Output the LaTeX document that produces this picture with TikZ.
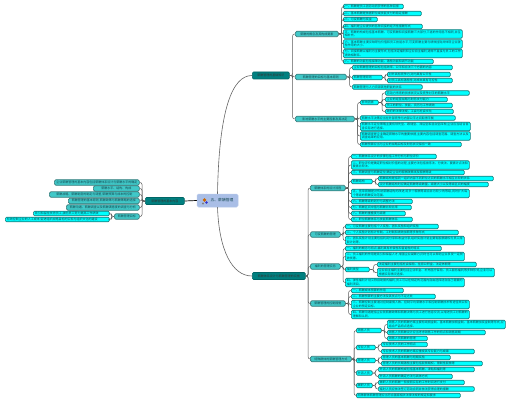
\documentclass[tikz,border=0pt]{standalone}
\usepackage{fontspec}
\setmainfont{Noto Sans CJK SC}
\XeTeXlinebreaklocale "zh"
\XeTeXlinebreakskip=0pt plus 0.5pt
\usetikzlibrary{calc}
\definecolor{rootfill}{HTML}{A9BEE6}
\definecolor{topfill}{HTML}{008080}
\definecolor{subfill}{HTML}{40C8C8}
\definecolor{leaffill}{HTML}{00FFFF}
\definecolor{edgeteal}{HTML}{1C7C7C}
\definecolor{txtdark}{HTML}{12474F}
\tikzset{
  rootblk/.style={rectangle,rounded corners=1.5pt,fill=rootfill,draw=rootfill!85!white,line width=.5pt,minimum width=41pt,minimum height=13pt,inner sep=0pt,font=\fontsize{3.8}{4.4}\selectfont,text=txtdark},
  topblk/.style={rectangle,rounded corners=1.2pt,fill=topfill,draw=topfill!80!black,line width=.6pt,anchor=west,minimum height=7pt,inner sep=0pt,align=center,font=\fontsize{3}{3.6}\selectfont,text=black!80},
  subblk/.style={rectangle,rounded corners=1.5pt,fill=subfill,draw=edgeteal!70!gray,line width=.7pt,anchor=west,minimum height=5.5pt,inner sep=0pt,align=center,font=\fontsize{3}{3.6}\selectfont,text=txtdark},
  leaf/.style={rectangle,rounded corners=1.2pt,fill=leaffill,draw=edgeteal,line width=.7pt,anchor=west,minimum height=4.6pt,inner xsep=1.5pt,inner ysep=0pt,align=left,font=\fontsize{3}{3.6}\selectfont,text=txtdark},
  two/.style={minimum height=8.6pt},
  wd/.style={minimum width=#1pt,text width=#1pt-3pt},
  bw/.style={minimum width=#1pt},
  lnk/.style={draw=black!65,line width=.5pt,rounded corners=2pt},
  lnkbig/.style={draw=black!60,line width=.6pt}
}
\begin{document}
\begin{tikzpicture}[x=1pt,y=-1pt]
  \useasboundingbox (0,0) rectangle (510,403);
  % Root
  \node[rootblk] (root) at (217.5,200.5) {\hspace{9pt}五、薪酬管理};
  \fill[orange!80!black] (204.5,200) circle (1.9pt);
  \fill[blue!60!gray] (206.5,202.5) circle (1.4pt);
  \fill[gray] (203,203.5) circle (1.1pt);

  % Left branch
  \node[topblk,bw=39] (ltl) at (145,201) {薪酬管理的基本内容};
  \node[subblk,bw=85] (la) at (54,182.5) {企业薪酬管理的基本内容包括薪酬体系设计与薪酬水平的确定};
  \node[subblk,bw=46] (lb) at (93,188.5) {薪酬水平、结构、构成};
  \node[subblk,bw=90] (lc) at (49,194.5) {薪酬战略、薪酬制度的制定与调整,薪酬预算与成本的控制};
  \node[subblk,bw=71] (ld) at (68,201) {薪酬管理的基本原则,薪酬政策与薪酬策略的选择};
  \node[subblk,bw=73] (le) at (66,207.5) {薪酬沟通、薪酬调查以及薪酬满意度的调查与分析};
  \node[subblk,bw=25] (lf) at (114,216.5) {薪酬管理目标};
  \node[leaf,wd=76] (lfa) at (33,213.5) {吸引和留住优秀员工,激励员工努力提高工作绩效};
  \node[leaf,wd=104] (lfb) at (5,219.5) {有效控制企业的人工成本,促进组织战略目标的实现与组织文化的建设};
  \draw[black,line width=.7pt] (root.west) -- (ltl.east);
  \foreach \t in {la,lb,lc,ld,le,lf}
    \draw[lnk] (ltl.west) -- ++(-3,0) |- (\t.east);
  \foreach \t in {lfa,lfb}
    \draw[lnk] (lf.west) -- ++(-2.5,0) |- (\t.east);

  % Top branch
  \node[topblk,bw=37] (ttop) at (252,75.5) {薪酬管理的基础知识};
  \draw[lnkbig] (root.north) .. controls (219,110) and (232,75.5) .. (ttop.west);

  \node[subblk,bw=43] (sa) at (295,34) {薪酬的概念及其构成要素};
  \node[leaf,wd=60] (a1) at (343,6.5) {一、薪酬是员工因劳动而获得的各种回报};
  \node[leaf,wd=78] (a2) at (343,13.5) {二、基本薪酬是依据职位或技能支付的稳定报酬};
  \node[leaf,wd=34] (a3) at (343,19.5) {三、可变薪酬与奖金};
  \node[leaf,wd=79] (a4) at (343,26.5) {四、福利是企业提供的各种间接的经济性报酬形式};
  \node[leaf,two,wd=119] (a5) at (343,34) {五、薪酬的构成包括基本薪酬、可变薪酬和间接薪酬三大部分,三者的作用各不相同,并互相补充。};
  \node[leaf,two,wd=119] (a6) at (343,44) {六、基本薪酬主要反映职位价值和员工技能水平,可变薪酬主要与绩效挂钩并体现企业激励作用的大小。};
  \node[leaf,two,wd=119] (a7) at (343,53.5) {七、间接薪酬以福利为主要形式,包括法定福利和企业自主福利,通常不直接与员工的工作绩效相联系。};
  \node[leaf,wd=90] (a8) at (343,61.5) {八、薪酬的功能包括保障功能、激励功能和调节功能};
  \foreach \t in {a1,a2,a3,a4,a5,a6,a7,a8}
    \draw[lnk] (sa.east) -- ++(3,0) |- (\t.west);

  \node[subblk,bw=51] (sb) at (295,77) {薪酬管理的目标与基本原则};
  \node[leaf,wd=100] (b1) at (352,67.5) {企业薪酬管理的目标包括效率、公平和合法三个方面的内容};
  \node[leaf,wd=30] (b2) at (352,77.5) {薪酬管理原则};
  \node[leaf,wd=63] (ba) at (387,74.5) {对外具有竞争力,对内具有公平性};
  \node[leaf,wd=65] (bb) at (387,80.5) {对员工具有激励性,对成本具有可控性};
  \node[leaf,wd=70] (b3) at (352,87) {薪酬管理与人力资源其他职能的关系};
  \foreach \t in {b1,b2,b3}
    \draw[lnk] (sb.east) -- ++(3,0) |- (\t.west);
  \foreach \t in {ba,bb}
    \draw[lnk] (b2.east) -- ++(2.5,0) |- (\t.west);

  \node[subblk,bw=59] (sc) at (295,119) {影响薪酬水平的主要因素及其决定};
  \node[leaf,wd=18] (c1) at (360,102.5) {影响因素};
  \node[leaf,wd=84] (ca) at (385,93) {劳动力市场的供求状况以及竞争对手的薪酬水平};
  \node[leaf,wd=62] (cb) at (385,99.5) {企业的经营战略与财务支付能力};
  \node[leaf,wd=67] (cc) at (385,105.5) {员工的职位、技能、资历与工作绩效};
  \node[leaf,wd=68] (cd) at (385,111.5) {政府的法律法规、工会与社会文化};
  \node[leaf,wd=95] (c2) at (360,118) {薪酬水平决策应当在外部竞争与内部公平之间取得平衡};
  \node[leaf,two,wd=110] (c3) at (360,126.5) {薪酬水平定位策略主要有领先型、跟随型、滞后型和混合型四种,企业应当结合自身实际进行选择。};
  \node[leaf,two,wd=110] (c4) at (360,136) {薪酬调查是企业确定薪酬水平的重要依据,主要内容包括调查范围、调查方法以及调查结果的应用。};
  \node[leaf,wd=101] (c5) at (360,144.5) {薪酬预算应当与企业的战略目标及财务状况保持一致};
  \foreach \t in {c1,c2,c3,c4,c5}
    \draw[lnk] (sc.east) -- ++(3,0) |- (\t.west);
  \foreach \t in {ca,cb,cc,cd}
    \draw[lnk] (c1.east) -- ++(3.5,0) |- (\t.west);

  \foreach \t in {sa,sb,sc}
    \draw[lnk] (ttop.east) -- ++(3,0) |- (\t.west);

  % Bottom branch
  \node[topblk,bw=53] (tbot) at (252,276) {薪酬体系设计与薪酬管理的实施};
  \draw[lnkbig] (root.south) .. controls (219,250) and (232,276) .. (tbot.west);

  \node[subblk,bw=35] (sd) at (310,188) {薪酬体系的设计流程};
  \node[leaf,wd=85] (d1) at (351,156.5) {一、薪酬体系设计的步骤包括工作分析与职位评价};
  \node[leaf,two,wd=118] (d2) at (351,165) {二、职位评价是确定职位相对价值的过程,主要方法包括排序法、分类法、要素计点法和要素比较法。};
  \node[leaf,wd=113] (d3) at (351,172.5) {三、薪酬调查与薪酬定位,确定企业的薪酬政策线及薪酬等级};
  \node[leaf,wd=21] (d4) at (351,181.5) {薪酬结构};
  \node[leaf,wd=115] (da) at (378,178.5) {薪酬结构是指同一组织内部不同职位之间的薪酬水平相互比较的关系};
  \node[leaf,wd=110] (db) at (378,184.5) {设计薪酬结构时应确定薪酬等级数量、级差大小以及等级区间的幅度};
  \node[leaf,two,wd=118] (d5) at (351,193.5) {五、宽带薪酬是对传统薪酬结构的改进,将多个薪酬等级合并为较少的等级,同时扩大每个等级的薪酬变动范围。};
  \node[leaf,wd=61] (d6) at (351,201.5) {六、薪酬等级的划分与调整方法};
  \node[leaf,wd=60] (d7) at (351,207.5) {七、薪酬区间中值与薪酬比较比率};
  \node[leaf,wd=54] (d8) at (351,213.5) {八、薪酬的重叠度与级差};
  \node[leaf,wd=61] (d9) at (351,219.5) {九、职位薪酬体系与技能薪酬体系};
  \foreach \t in {d1,d2,d3,d4,d5,d6,d7,d8,d9}
    \draw[lnk] (sd.east) -- ++(3,0) |- (\t.west);
  \foreach \t in {da,db}
    \draw[lnk] (d4.east) -- ++(3,0) |- (\t.west);

  \node[subblk,bw=30] (se) at (310,234.5) {可变薪酬的管理};
  \node[leaf,wd=93] (e1) at (345,226.5) {一、可变薪酬主要包括个人奖励、团队奖励和组织奖励};
  \node[leaf,wd=113] (e2) at (345,232.5) {二、个人奖励计划有计件制、工时制和绩效加薪等多种形式};
  \node[leaf,two,wd=119] (e3) at (345,240.5) {三、团队奖励计划主要包括利润分享和收益分享,组织奖励计划主要有股票期权与员工持股计划等。};
  \foreach \t in {e1,e2,e3}
    \draw[lnk] (se.east) -- ++(2.5,0) |- (\t.west);

  \node[subblk,bw=30] (sf) at (310,266.5) {福利的管理实务};
  \node[leaf,wd=96] (f1) at (345,248.5) {一、福利的概念与特点,福利具有补偿性和普遍性的特点};
  \node[leaf,two,wd=119] (f2) at (345,256.5) {二、员工福利的作用是吸引和保留人才,增强企业凝聚力,同时也可以帮助企业享受一定税收优惠。};
  \node[leaf,wd=24] (f3) at (345,269.5) {福利类型};
  \node[leaf,wd=99] (fa) at (377,264.5) {法定福利主要包括社会保险、住房公积金、法定休假等};
  \node[leaf,two,wd=117] (fb) at (377,272.5) {企业自主福利主要包括企业年金、补充医疗保险、员工服务福利等多种形式,企业可以根据实际情况选择。};
  \node[leaf,two,wd=119] (f4) at (345,282.5) {四、弹性福利计划又称自助餐式福利,员工可以在规定的范围内自由选择适合自己需要的福利项目。};
  \foreach \t in {f1,f2,f3,f4}
    \draw[lnk] (sf.east) -- ++(2.5,0) |- (\t.west);
  \foreach \t in {fa,fb}
    \draw[lnk] (f3.east) -- ++(4,0) |- (\t.west);

  \node[subblk,bw=35] (sg) at (310,303.5) {薪酬管理的控制措施};
  \node[leaf,wd=52] (g1) at (351,290.5) {一、薪酬成本预算的作用};
  \node[leaf,wd=84] (g2) at (351,296.5) {二、薪酬预算的主要方法及其优点与不足之处};
  \node[leaf,two,wd=118] (g3) at (351,304.5) {三、薪酬控制主要通过控制雇佣人数、控制平均薪酬水平和控制薪酬技术等途径来实现企业的预定目标。};
  \node[leaf,two,wd=118] (g4) at (351,314.5) {四、薪酬沟通是指企业就薪酬政策和薪酬决策与员工进行信息交流,以增进员工对薪酬的理解和认同。};
  \foreach \t in {g1,g2,g3,g4}
    \draw[lnk] (sg.east) -- ++(3,0) |- (\t.west);

  \node[subblk,bw=41] (sh) at (310,359) {特殊群体的薪酬管理方式};
  \node[leaf,wd=25] (h1) at (356,330.5) {销售人员};
  \node[leaf,two,wd=118] (ha) at (387,324.5) {销售人员的薪酬方案主要有纯佣金制、基本薪酬加佣金制、基本薪酬加奖金制等形式,应结合产品特点选择。};
  \node[leaf,wd=98] (hb) at (387,332.5) {销售人员薪酬设计应当考虑销售工作的特点和销售周期};
  \node[leaf,wd=40] (hc) at (387,338.5) {销售人员薪酬的管理};
  \node[leaf,wd=19] (h2) at (356,347.5) {专业人员};
  \node[leaf,wd=46] (hd) at (381,344.5) {专业技术人员的工作特点};
  \node[leaf,wd=93] (he) at (381,351.5) {专业技术人员的薪酬方案应重视其专业能力与成果};
  \node[leaf,wd=19] (h3) at (356,360.5) {管理人员};
  \node[leaf,wd=69] (hf) at (381,357.5) {管理人员的基本薪酬与短期奖励};
  \node[leaf,wd=101] (hg) at (381,363.5) {管理人员的长期激励主要包括股票期权、限制性股票等};
  \node[leaf,wd=16] (h4) at (356,373) {外派人员};
  \node[leaf,wd=96] (hh) at (378,369.5) {外派人员的薪酬构成包括基本薪酬、津贴和福利等};
  \node[leaf,wd=74] (hi) at (378,376.5) {外派人员薪酬的确定方法与具体方式};
  \node[leaf,wd=16] (h5) at (356,385.5) {兼职人员};
  \node[leaf,wd=86] (hj) at (378,382.5) {兼职人员的薪酬一般按照实际的工作时间进行支付};
  \node[leaf,wd=96] (hk) at (378,389) {临时人员应依法签订劳动合同并依法获得合理的报酬};
  \node[leaf,wd=104] (h6) at (356,395.5) {特殊群体薪酬管理应当符合国家相关法律法规的规定和要求};
  \foreach \t in {h1,h2,h3,h4,h5,h6}
    \draw[lnk] (sh.east) -- ++(2.5,0) |- (\t.west);
  \foreach \t in {ha,hb,hc}
    \draw[lnk] (h1.east) -- ++(3,0) |- (\t.west);
  \foreach \t in {hd,he}
    \draw[lnk] (h2.east) -- ++(3,0) |- (\t.west);
  \foreach \t in {hf,hg}
    \draw[lnk] (h3.east) -- ++(3,0) |- (\t.west);
  \foreach \t in {hh,hi}
    \draw[lnk] (h4.east) -- ++(3,0) |- (\t.west);
  \foreach \t in {hj,hk}
    \draw[lnk] (h5.east) -- ++(3,0) |- (\t.west);

  \foreach \t in {sd,se,sf,sg,sh}
    \draw[lnk] (tbot.east) -- ++(2.5,0) |- (\t.west);
\end{tikzpicture}
\end{document}
